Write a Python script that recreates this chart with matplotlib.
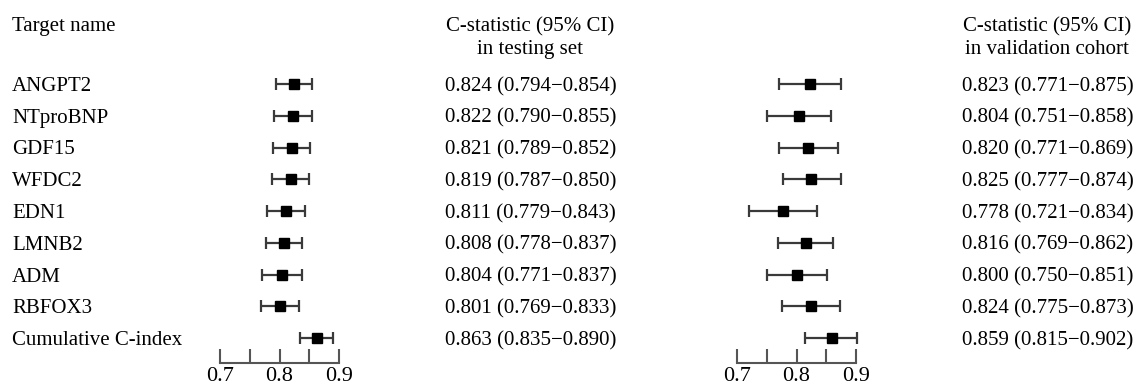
import matplotlib
matplotlib.use("Agg")
import matplotlib.pyplot as plt
from matplotlib.transforms import blended_transform_factory

plt.rcParams['font.family'] = ['Liberation Serif', 'DejaVu Serif']

targets = ["ANGPT2", "NTproBNP", "GDF15", "WFDC2", "EDN1", "LMNB2", "ADM", "RBFOX3",
           "Cumulative C-index"]
test_est = [0.824, 0.822, 0.821, 0.819, 0.811, 0.808, 0.804, 0.801, 0.863]
test_lo = [0.794, 0.790, 0.789, 0.787, 0.779, 0.778, 0.771, 0.769, 0.835]
test_hi = [0.854, 0.855, 0.852, 0.850, 0.843, 0.837, 0.837, 0.833, 0.890]
val_est = [0.823, 0.804, 0.820, 0.825, 0.778, 0.816, 0.800, 0.824, 0.859]
val_lo = [0.771, 0.751, 0.771, 0.777, 0.721, 0.769, 0.750, 0.775, 0.815]
val_hi = [0.875, 0.858, 0.869, 0.874, 0.834, 0.862, 0.851, 0.873, 0.902]
xticks_major = [0.7, 0.8, 0.9]
xticks_minor = [0.75, 0.85]

W, H = 1139, 390
fig = plt.figure(figsize=(W / 100, H / 100), dpi=100)

row0, step = 84, 31.75
ytop = -row0 / step
ybot = (H - row0) / step
axis_y = (363 - row0) / step
FS = 15

def panel(x0, x1, est, lo, hi):
    ax = fig.add_axes([x0 / W, 0, (x1 - x0) / W, 1])
    ax.set_xlim(0.7, 0.9)
    ax.set_ylim(ybot, ytop)
    ys = list(range(len(est)))
    ax.errorbar(est, ys, xerr=[[e - l for e, l in zip(est, lo)], [h - e for e, h in zip(est, hi)]],
                fmt='none', ecolor='#3a3a3a', elinewidth=1.6, capsize=4, capthick=1.6,
                clip_on=False)
    ax.plot(est, ys, 's', color='black', markersize=7.5, clip_on=False, zorder=3)
    for s in ['top', 'left', 'right']:
        ax.spines[s].set_visible(False)
    ax.spines['bottom'].set_position(('data', axis_y))
    ax.spines['bottom'].set_color('#555555')
    ax.spines['bottom'].set_linewidth(1.5)
    ax.set_yticks([])
    ax.set_xticks(xticks_major)
    ax.set_xticks(xticks_minor, minor=True)
    ax.set_xticklabels([f"{t:.1f}" for t in xticks_major], fontsize=16)
    ax.tick_params(axis='x', which='both', direction='in', length=10, width=1.5,
                   color='#555555', pad=3)
    ax.patch.set_visible(False)
    return ax

axL = panel(220, 339, test_est, test_lo, test_hi)
axR = panel(737, 856, val_est, val_lo, val_hi)

tr = blended_transform_factory(fig.transFigure, axL.transData)
for i, name in enumerate(targets):
    axL.text(12 / W, i, name, transform=tr, ha='left', va='center_baseline', fontsize=FS)
    axL.text(445 / W, i, f"{test_est[i]:.3f} ({test_lo[i]:.3f}\u2212{test_hi[i]:.3f})",
             transform=tr, ha='left', va='center_baseline', fontsize=FS)
    axL.text(962 / W, i, f"{val_est[i]:.3f} ({val_lo[i]:.3f}\u2212{val_hi[i]:.3f})",
             transform=tr, ha='left', va='center_baseline', fontsize=FS)

fig.text(12 / W, 1 - 24 / H, "Target name", ha='left', va='center_baseline', fontsize=FS)
fig.text(530 / W, 1 - 24 / H, "C-statistic (95% CI)", ha='center', va='center_baseline', fontsize=FS)
fig.text(530 / W, 1 - 47 / H, "in testing set", ha='center', va='center_baseline', fontsize=FS)
fig.text(1047 / W, 1 - 24 / H, "C-statistic (95% CI)", ha='center', va='center_baseline', fontsize=FS)
fig.text(1047 / W, 1 - 47 / H, "in validation cohort", ha='center', va='center_baseline', fontsize=FS)

fig.savefig("out.png", dpi=100)
